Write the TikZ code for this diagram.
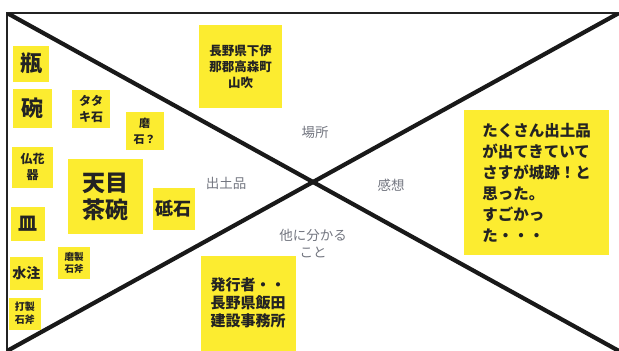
\documentclass[tikz,border=0pt]{standalone}
\usepackage{fontspec}
\setmainfont{Noto Sans CJK JP}
\definecolor{notecol}{RGB}{252,236,48}
\definecolor{inkcol}{RGB}{35,35,35}
\definecolor{labelcol}{RGB}{115,118,128}
\newcommand{\nfont}[2]{\fontsize{#1}{#2}\selectfont}
\tikzset{
  note/.style={fill=notecol, text=inkcol, inner sep=0pt, align=center,
    minimum size=#1},
  quadlabel/.style={text=labelcol, align=center, font=\nfont{13.5}{17}},
  divider/.style={line width=4.2pt, black!90},
}

\begin{document}
\begin{tikzpicture}[x=1pt, y=-1pt]

  % Page area.
  \useasboundingbox (0,0) rectangle (619,351);

  % Frame corners and diagonal ends.
  \coordinate (tl) at (7,13);
  \coordinate (tr) at (619,13);
  \coordinate (bl) at (7,351);
  \coordinate (dl) at (7,351);
  \coordinate (dr) at (619,351);

  % Frame.
  \draw[line width=1.3pt, inkcol] (tr) -- (tl) -- (bl);

  % Diagonals.
  \begin{scope}
    \clip (tl) rectangle (dr);
    \draw[divider] (tl) -- (dr);
    \draw[divider] (dl) -- (tr);
  \end{scope}

  % Quadrant labels.
  \node[quadlabel] (place)   at (315,132) {場所};
  \node[quadlabel] (finds)   at (226,183) {出土品};
  \node[quadlabel] (thought) at (391,185) {感想};
  \node[quadlabel] (other)   at (313,244) {他に分かる\\こと};

  % Notes -- finds.
  \node[note=36pt, font=\nfont{22}{26}\bfseries] (bin)   at (31,63.5)  {瓶};
  \node[note=39pt, font=\nfont{22}{26}\bfseries] (wan)   at (32.5,108.5) {碗};
  \node[note=38pt, font=\nfont{12}{16}\bfseries] (tataki) at (91,108.5) {タタ\\キ石};
  \node[note=38pt, font=\nfont{11}{16}\bfseries] (migaki) at (144.5,131) {磨\\石？};
  \node[note=41pt, font=\nfont{12}{16}\bfseries] (kaki)  at (32.5,167)  {仏花\\器};
  \node[note=75pt, font=\nfont{23}{27}\bfseries] (tenmoku) at (105.5,196.5) {天目\\茶碗};
  \node[note=42pt, font=\nfont{18}{22}\bfseries] (toishi) at (173.5,209) {砥石};
  \node[note=34pt, font=\nfont{19}{22}\bfseries] (sara)  at (28,224)    {皿};
  \node[note=32pt, font=\nfont{9.5}{12}\bfseries] (masei) at (74,263)   {磨製\\石斧};
  \node[note=33pt, font=\nfont{14}{17}\bfseries] (suichu) at (26.5,273.5) {水注};
  \node[note=32pt, font=\nfont{10}{13}\bfseries] (dasei) at (25,313.5)  {打製\\石斧};

  % Notes -- place, other, thoughts.
  \node[note=83pt, font=\nfont{12.5}{16}\bfseries] (addr) at (240.5,66.5)
    {長野県下伊\\那郡高森町\\山吹};
  \node[note=95pt, font=\nfont{15}{18}\bfseries] (pub) at (248,303)
    {発行者・・\\長野県飯田\\建設事務所};
  \node[note=145pt, align=left, font=\nfont{15.5}{21}\bfseries] (impr) at (536.5,182.5)
    {たくさん出土品\\が出てきていて\\さすが城跡！と\\思った。\\すごかっ\\た・・・};

\end{tikzpicture}
\end{document}
